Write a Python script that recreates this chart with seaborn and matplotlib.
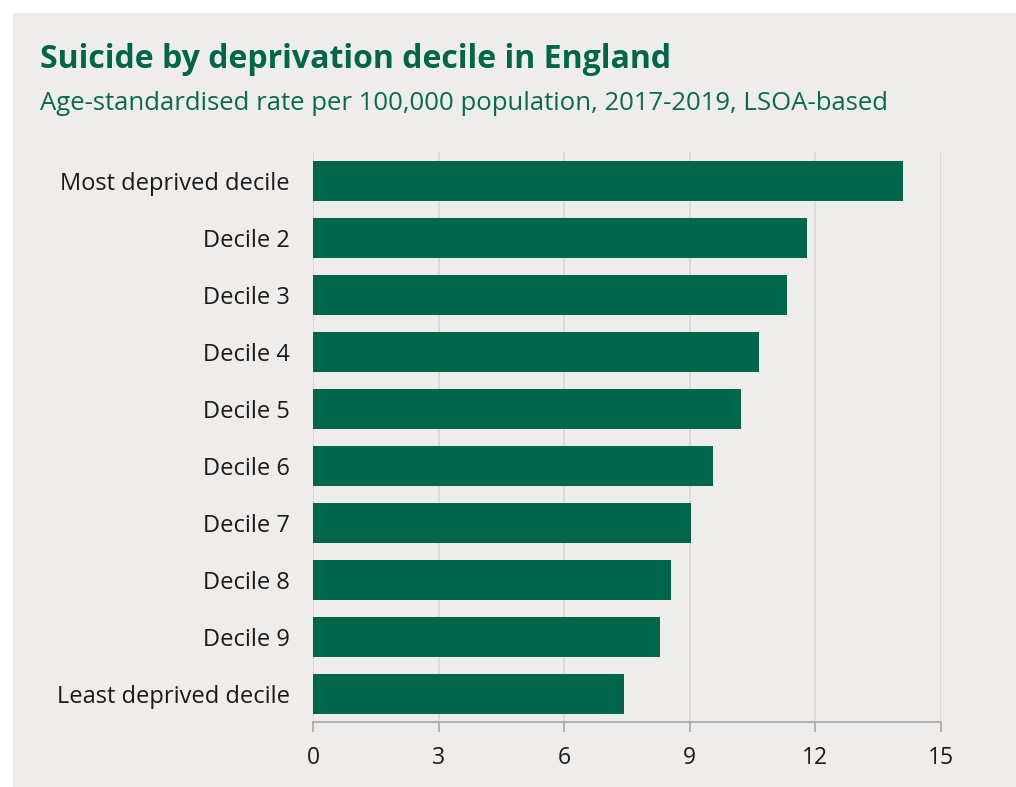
import pandas as pd
import seaborn as sns
import matplotlib.pyplot as plt
from matplotlib.patches import Rectangle

sns.set_theme(style="white")
plt.rcParams['font.family'] = ['Open Sans', 'DejaVu Sans']

deciles = ["Most deprived decile", "Decile 2", "Decile 3", "Decile 4", "Decile 5",
           "Decile 6", "Decile 7", "Decile 8", "Decile 9", "Least deprived decile"]
rates = [14.1, 11.8, 11.32, 10.65, 10.22, 9.55, 9.03, 8.55, 8.29, 7.43]
xticks = [0, 3, 6, 9, 12, 15]

df = pd.DataFrame({"decile": deciles, "rate": rates})

bg = "#efedeb"
green = "#00664a"

fig = plt.figure(figsize=(10.16, 7.87), dpi=100)
fig.patch.set_facecolor("white")
fig.patches.append(Rectangle((13 / 1016, 0), 1 - 13 / 1016, 1 - 13 / 787,
                             transform=fig.transFigure, facecolor=bg,
                             edgecolor="none", zorder=-10))

ax = fig.add_axes([0.3081, 0.0820, 0.6181, 0.7243])
ax.set_facecolor(bg)
sns.barplot(data=df, x="rate", y="decile", color=green, saturation=1,
            width=0.7, edgecolor="none", linewidth=0, ax=ax, zorder=3)

ax.set_xlim(0, 15)
ax.set_ylim(9.5, -0.5)
ax.set_xticks(xticks)
ax.set_xticklabels([str(t) for t in xticks])
ax.set_xlabel("")
ax.set_ylabel("")
ax.grid(axis="x", color="#dad8d6", linewidth=1.3, zorder=0)
ax.grid(axis="y", visible=False)
for s in ["top", "right", "left"]:
    ax.spines[s].set_visible(False)
ax.spines["bottom"].set_color("#a8a8a8")
ax.spines["bottom"].set_linewidth(1.2)
ax.tick_params(axis="x", bottom=True, length=7, width=1.2, color="#a8a8a8",
               labelsize=16.5, labelcolor="#1a1a1a", pad=10)
ax.tick_params(axis="y", left=False, labelsize=17, labelcolor="#1a1a1a", pad=10.5)

fig.text(40 / 1016, 1 - 68 / 787, "Suicide by deprivation decile in England",
         fontsize=23, fontweight="bold", color=green, ha="left", va="baseline")
fig.text(40 / 1016, 1 - 110 / 787,
         "Age-standardised rate per 100,000 population, 2017-2019, LSOA-based",
         fontsize=18.5, color="#0a6b4c", ha="left", va="baseline")

plt.savefig("out.png", dpi=100)
